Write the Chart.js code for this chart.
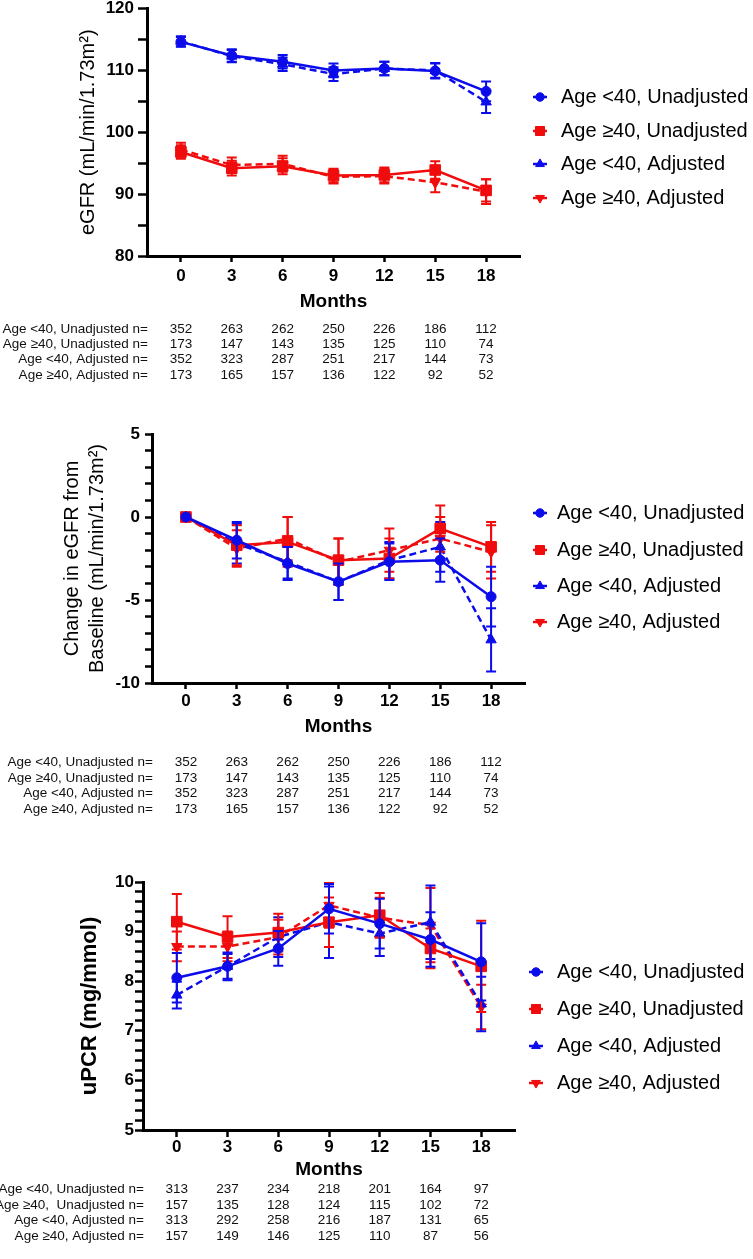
<!DOCTYPE html>
<html>
<head>
<meta charset="utf-8">
<script src="https://cdn.jsdelivr.net/npm/chart.js@4.4.1/dist/chart.umd.min.js"></script>
<style>
  body { margin: 0; background: #fff; }
  canvas { display: block; }
</style>
</head>
<body>
<canvas id="egfrChart" width="753" height="420"></canvas>
<canvas id="changeChart" width="753" height="420"></canvas>
<canvas id="upcrChart" width="753" height="419"></canvas>
<script>
var months = [0, 3, 6, 9, 12, 15, 18];
var seriesLabels = ['Age <40, Unadjusted', 'Age \u226540, Unadjusted', 'Age <40, Adjusted', 'Age \u226540, Adjusted'];

// eGFR (mL/min/1.73m2), mean and SEM
var egfrYoungUnadj = [114.6, 112.4, 111.4, 110.0, 110.3, 109.9, 106.6];
var egfrOldUnadj = [96.8, 94.2, 94.5, 93.0, 93.1, 93.9, 90.6];
var egfrYoungAdj = [114.7, 112.3, 111.0, 109.4, 110.3, 110.0, 104.9];
var egfrOldAdj = [97.2, 94.7, 94.9, 92.8, 92.9, 91.9, 90.4];
var egfrYoungUnadjErr = [0.8, 1.0, 1.1, 1.1, 1.1, 1.2, 1.6];
var egfrOldUnadjErr = [1.1, 1.2, 1.3, 1.1, 1.2, 1.4, 1.8];
var egfrYoungAdjErr = [0.8, 1.0, 1.1, 1.1, 1.1, 1.2, 1.8];
var egfrOldAdjErr = [1.1, 1.2, 1.3, 1.1, 1.2, 1.6, 2.0];

// change in eGFR from baseline
var chgYoungUnadj = [0, -1.4, -2.8, -3.9, -2.7, -2.6, -4.8];
var chgOldUnadj = [0, -1.7, -1.5, -2.6, -2.5, -0.7, -1.8];
var chgYoungAdj = [0, -1.6, -2.7, -3.9, -2.6, -1.8, -7.4];
var chgOldAdj = [0, -1.9, -1.3, -2.7, -2.0, -1.3, -2.1];
var chgYoungUnadjErr = [0, 1.1, 1.0, 1.1, 1.1, 1.3, 1.8];
var chgOldUnadjErr = [0, 1.2, 1.5, 1.3, 1.2, 1.4, 1.5];
var chgYoungAdjErr = [0, 1.2, 1.0, 1.1, 1.1, 1.5, 1.9];
var chgOldAdjErr = [0, 1.1, 1.3, 1.4, 1.3, 1.3, 1.6];

// uPCR (mg/mmol)
var upcrYoungUnadj = [8.07, 8.30, 8.66, 9.46, 9.16, 8.84, 8.39];
var upcrOldUnadj = [9.20, 8.89, 8.98, 9.19, 9.33, 8.66, 8.30];
var upcrYoungAdj = [7.72, 8.30, 8.89, 9.19, 8.96, 9.19, 7.54];
var upcrOldAdj = [8.70, 8.70, 8.89, 9.53, 9.28, 9.13, 7.48];
var upcrYoungUnadjErr = [0.5, 0.28, 0.35, 0.5, 0.5, 0.55, 0.78];
var upcrOldUnadjErr = [0.56, 0.42, 0.38, 0.5, 0.45, 0.4, 0.92];
var upcrYoungAdjErr = [0.27, 0.25, 0.4, 0.72, 0.45, 0.74, 0.55];
var upcrOldAdjErr = [0.3, 0.3, 0.35, 0.45, 0.4, 0.75, 0.45];

// numbers at risk
var egfrRowLabels = ['Age <40, Unadjusted n=', 'Age \u226540, Unadjusted n=', 'Age <40, Adjusted n=', 'Age \u226540, Adjusted n='];
var upcrRowLabels = ['Age <40, Unadjusted n=', 'Age \u226540,  Unadjusted n=', 'Age <40, Adjusted n=', 'Age \u226540, Adjusted n='];
var egfrNYoungUnadj = [352, 263, 262, 250, 226, 186, 112];
var egfrNOldUnadj = [173, 147, 143, 135, 125, 110, 74];
var egfrNYoungAdj = [352, 323, 287, 251, 217, 144, 73];
var egfrNOldAdj = [173, 165, 157, 136, 122, 92, 52];
var upcrNYoungUnadj = [313, 237, 234, 218, 201, 164, 97];
var upcrNOldUnadj = [157, 135, 128, 124, 115, 102, 72];
var upcrNYoungAdj = [313, 292, 258, 216, 187, 131, 65];
var upcrNOldAdj = [157, 149, 146, 125, 110, 87, 56];

var FONT = '"Liberation Sans", Arial, Helvetica, sans-serif';
Chart.defaults.font.family = FONT;
Chart.defaults.color = '#000';

var BLUE = 'rgb(12,12,235)';
var RED = 'rgb(240,12,12)';
var seriesStyle = [
  { color: BLUE, pointStyle: 'circle', radius: 5, rotation: 0, dash: [] },
  { color: RED, pointStyle: 'rect', radius: 7.5, rotation: 0, dash: [] },
  { color: BLUE, pointStyle: 'triangle', radius: 6, rotation: 0, dash: [7, 4] },
  { color: RED, pointStyle: 'triangle', radius: 6, rotation: 180, dash: [7, 4] }
];

function makeDatasets(valueSets, errSets) {
  return valueSets.map(function (vals, i) {
    var s = seriesStyle[i];
    return {
      label: seriesLabels[i],
      data: months.map(function (m, j) { return { x: m, y: vals[j] }; }),
      errors: errSets[i],
      borderColor: s.color,
      backgroundColor: s.color,
      pointBorderColor: s.color,
      pointBackgroundColor: s.color,
      borderWidth: 2.5,
      borderDash: s.dash,
      pointStyle: s.pointStyle,
      pointRadius: s.radius,
      pointHoverRadius: s.radius,
      pointRotation: s.rotation,
      pointBorderWidth: 1,
      tension: 0,
      fill: false
    };
  });
}

// SEM whiskers, drawn just under each dataset
var errorBarPlugin = {
  id: 'errorBars',
  beforeDatasetDraw: function (chart, args) {
    var ds = chart.data.datasets[args.index];
    if (!ds.errors) return;
    var ctx = chart.ctx, yScale = chart.scales.y;
    ctx.save();
    ctx.strokeStyle = ds.borderColor;
    ctx.lineWidth = 2;
    ctx.setLineDash([]);
    args.meta.data.forEach(function (pt, j) {
      var e = ds.errors[j];
      if (!e) return;
      var v = ds.data[j].y;
      var top = yScale.getPixelForValue(v + e);
      var bot = yScale.getPixelForValue(v - e);
      ctx.beginPath();
      ctx.moveTo(pt.x, top); ctx.lineTo(pt.x, bot);
      ctx.moveTo(pt.x - 5, top); ctx.lineTo(pt.x + 5, top);
      ctx.moveTo(pt.x - 5, bot); ctx.lineTo(pt.x + 5, bot);
      ctx.stroke();
    });
    ctx.restore();
  }
};

function makeLegendPlugin(markerX, textX, rowY) {
  return {
    id: 'sideLegend',
    afterDraw: function (chart) {
      var ctx = chart.ctx;
      ctx.save();
      ctx.font = '20px ' + FONT;
      ctx.textBaseline = 'middle';
      ctx.textAlign = 'left';
      chart.data.datasets.forEach(function (ds, i) {
        var y = rowY[i];
        ctx.strokeStyle = ds.borderColor;
        ctx.fillStyle = ds.backgroundColor;
        ctx.lineWidth = 2.5;
        ctx.setLineDash([]);
        ctx.beginPath();
        ctx.moveTo(markerX - 7, y);
        ctx.lineTo(markerX + 7, y);
        ctx.stroke();
        ctx.lineWidth = 1;
        Chart.helpers.drawPoint(ctx, {
          pointStyle: ds.pointStyle, rotation: ds.pointRotation,
          radius: ds.pointRadius * 0.85, borderWidth: 1
        }, markerX, y);
        ctx.fillStyle = '#000';
        ctx.fillText(ds.label, textX, y);
      });
      ctx.restore();
    }
  };
}

function makeTablePlugin(labels, counts, rowY) {
  return {
    id: 'nTable',
    afterDraw: function (chart) {
      var ctx = chart.ctx, xs = chart.scales.x, left = chart.chartArea.left;
      ctx.save();
      ctx.font = '13.5px ' + FONT;
      ctx.fillStyle = '#111';
      ctx.textBaseline = 'middle';
      labels.forEach(function (lab, i) {
        var y = rowY[i];
        ctx.textAlign = 'right';
        ctx.fillText(lab, left + 1, y);
        ctx.textAlign = 'center';
        counts[i].forEach(function (n, j) {
          ctx.fillText(String(n), xs.getPixelForValue(months[j]), y);
        });
      });
      ctx.restore();
    }
  };
}

function buildChart(id, cfg, datasets, plugins) {
  var xHeight = 60;
  var yTickVals = [];
  for (var k = 0; cfg.yMin + k * cfg.yStep <= cfg.yMax + 1e-9; k++) {
    yTickVals.push(Math.round((cfg.yMin + k * cfg.yStep) * 1000) / 1000);
  }
  return new Chart(document.getElementById(id), {
    type: 'line',
    data: { datasets: datasets },
    plugins: [errorBarPlugin].concat(plugins),
    options: {
      responsive: false,
      animation: false,
      events: [],
      layout: {
        padding: { left: 0, top: cfg.top, right: 753 - cfg.right, bottom: cfg.height - cfg.bottom - xHeight }
      },
      plugins: { legend: { display: false }, tooltip: { enabled: false } },
      scales: {
        x: {
          type: 'linear', min: -2, max: 20,
          afterBuildTicks: function (s) { s.ticks = months.map(function (m) { return { value: m }; }); },
          afterFit: function (s) { s.height = xHeight; s.paddingLeft = 0; s.paddingRight = 0; },
          grid: { display: true, drawOnChartArea: false, drawTicks: true, tickLength: cfg.xTick, tickWidth: 2.5, tickColor: '#000' },
          border: { display: true, color: '#000', width: 3 },
          ticks: { autoSkip: false, maxRotation: 0, padding: cfg.xPad, color: '#000', font: { size: 17, weight: 'bold' } },
          title: { display: true, text: 'Months', color: '#000', font: { size: 19, weight: 'bold' }, padding: { top: 0, bottom: cfg.monthsPad } }
        },
        y: {
          type: 'linear', min: cfg.yMin, max: cfg.yMax,
          afterBuildTicks: function (s) { s.ticks = yTickVals.map(function (v) { return { value: v }; }); },
          afterFit: function (s) { s.width = cfg.left; s.paddingTop = 0; s.paddingBottom = 0; },
          grid: { display: true, drawOnChartArea: false, drawTicks: true, tickLength: cfg.yTick, tickWidth: 2.5, tickColor: '#000' },
          border: { display: true, color: '#000', width: 3 },
          ticks: {
            autoSkip: false, padding: cfg.yPad, color: '#000', font: { size: 17, weight: 'bold' },
            callback: function (v) {
              var r = v / cfg.yLabelStep;
              return Math.abs(r - Math.round(r)) < 1e-6 ? String(Math.round(v)) : '';
            }
          },
          title: { display: true, text: cfg.yTitle, color: '#000', font: cfg.yTitleFont, padding: { top: cfg.yTitlePad, bottom: 0 } }
        }
      }
    }
  });
}

buildChart('egfrChart', {
  height: 420, left: 147, right: 520, top: 7, bottom: 256,
  yMin: 80, yMax: 120, yStep: 5, yLabelStep: 10, yTick: 9, yPad: 4, xTick: 6, xPad: 4, monthsPad: 2.6,
  yTitle: 'eGFR (mL/min/1.73m\u00b2)', yTitleFont: { size: 20, weight: 'normal', lineHeight: 1.25 }, yTitlePad: 75.5
}, makeDatasets(
  [egfrYoungUnadj, egfrOldUnadj, egfrYoungAdj, egfrOldAdj],
  [egfrYoungUnadjErr, egfrOldUnadjErr, egfrYoungAdjErr, egfrOldAdjErr]
), [
  makeLegendPlugin(540, 561, [97, 131, 164, 198]),
  makeTablePlugin(egfrRowLabels, [egfrNYoungUnadj, egfrNOldUnadj, egfrNYoungAdj, egfrNOldAdj], [329, 344, 359, 375])
]);

buildChart('changeChart', {
  height: 420, left: 152, right: 525, top: 14, bottom: 263,
  yMin: -10, yMax: 5, yStep: 1, yLabelStep: 5, yTick: 7, yPad: 5, xTick: 6, xPad: 2.5, monthsPad: 4.6,
  yTitle: ['Change in eGFR from', 'Baseline (mL/min/1.73m\u00b2)'], yTitleFont: { size: 20, weight: 'normal', lineHeight: 1.25 }, yTitlePad: 59.5
}, makeDatasets(
  [chgYoungUnadj, chgOldUnadj, chgYoungAdj, chgOldAdj],
  [chgYoungUnadjErr, chgOldUnadjErr, chgYoungAdjErr, chgOldAdjErr]
), [
  makeLegendPlugin(540, 557, [93, 130, 166, 202]),
  makeTablePlugin(egfrRowLabels, [egfrNYoungUnadj, egfrNOldUnadj, egfrNYoungAdj, egfrNOldAdj], [342, 358, 373, 389])
]);

buildChart('upcrChart', {
  height: 419, left: 143, right: 515, top: 42, bottom: 290,
  yMin: 5, yMax: 10, yStep: 0.2, yLabelStep: 1, yTick: 8, yPad: 1, xTick: 7, xPad: 0, monthsPad: 8.6,
  yTitle: 'uPCR (mg/mmol)', yTitleFont: { size: 22, weight: 'bold', lineHeight: 1.2 }, yTitlePad: 76.8
}, makeDatasets(
  [upcrYoungUnadj, upcrOldUnadj, upcrYoungAdj, upcrOldAdj],
  [upcrYoungUnadjErr, upcrOldUnadjErr, upcrYoungAdjErr, upcrOldAdjErr]
), [
  makeLegendPlugin(536, 557, [132, 169, 206, 243]),
  makeTablePlugin(upcrRowLabels, [upcrNYoungUnadj, upcrNOldUnadj, upcrNYoungAdj, upcrNOldAdj], [349, 365, 380, 396])
]);
</script>
</body>
</html>
